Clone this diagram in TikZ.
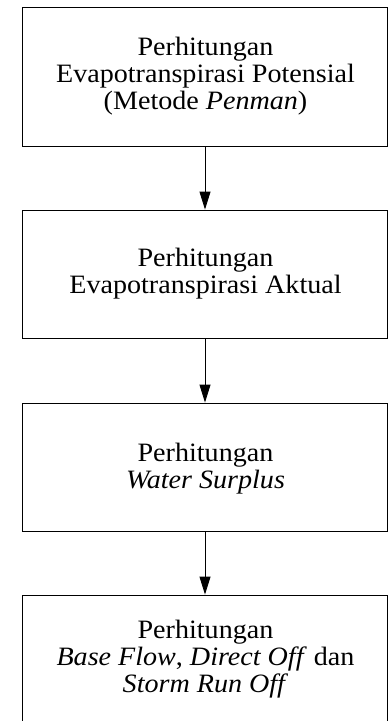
\documentclass[tikz,border=0pt]{standalone}
\usepackage{fontspec}
\setmainfont{Liberation Serif}[FakeStretch=1.06]
\usetikzlibrary{arrows.meta}
\begin{document}
\begin{tikzpicture}[x=1pt,y=-1pt,
  stepbox/.style={draw=black,line width=0.9pt,rectangle,inner sep=0pt,minimum width=365pt},
  steptext/.style={align=center,inner sep=0pt,anchor=base,font=\fontsize{26.5}{26.7}\selectfont},
  flow/.style={draw=black,line width=0.9pt,-{Triangle[length=18pt,width=11pt]}}]
\clip (0,0) rectangle (388,721);
\fill[white] (0,0) rectangle (388,721);
% boxes of the process chain
\node[stepbox,minimum height=139pt] (b1) at (205,76.5) {};
\node[stepbox,minimum height=128pt] (b2) at (205,274) {};
\node[stepbox,minimum height=128pt] (b3) at (205,467) {};
\node[stepbox,minimum height=135pt] (b4) at (205,662.5) {};
% labels (anchored at the baseline of their last line)
\node[steptext] (t1) at (205.5,109) {Perhitungan\\Evapotranspirasi Potensial\\(Metode \textit{Penman})};
\node[steptext] (t2) at (205.5,293.5) {Perhitungan\\Evapotranspirasi Aktual};
\node[steptext] (t3) at (205.5,488) {Perhitungan\\\textit{Water Surplus}};
\node[steptext] (t4) at (205.5,692) {Perhitungan\\\textit{Base Flow}, \textit{Direct Off} dan\\\textit{Storm Run Off}};
% connectors
\draw[flow] (b1.south) -- (b2.north);
\draw[flow] (b2.south) -- (b3.north);
\draw[flow] (b3.south) -- (b4.north);
\end{tikzpicture}
\end{document}
